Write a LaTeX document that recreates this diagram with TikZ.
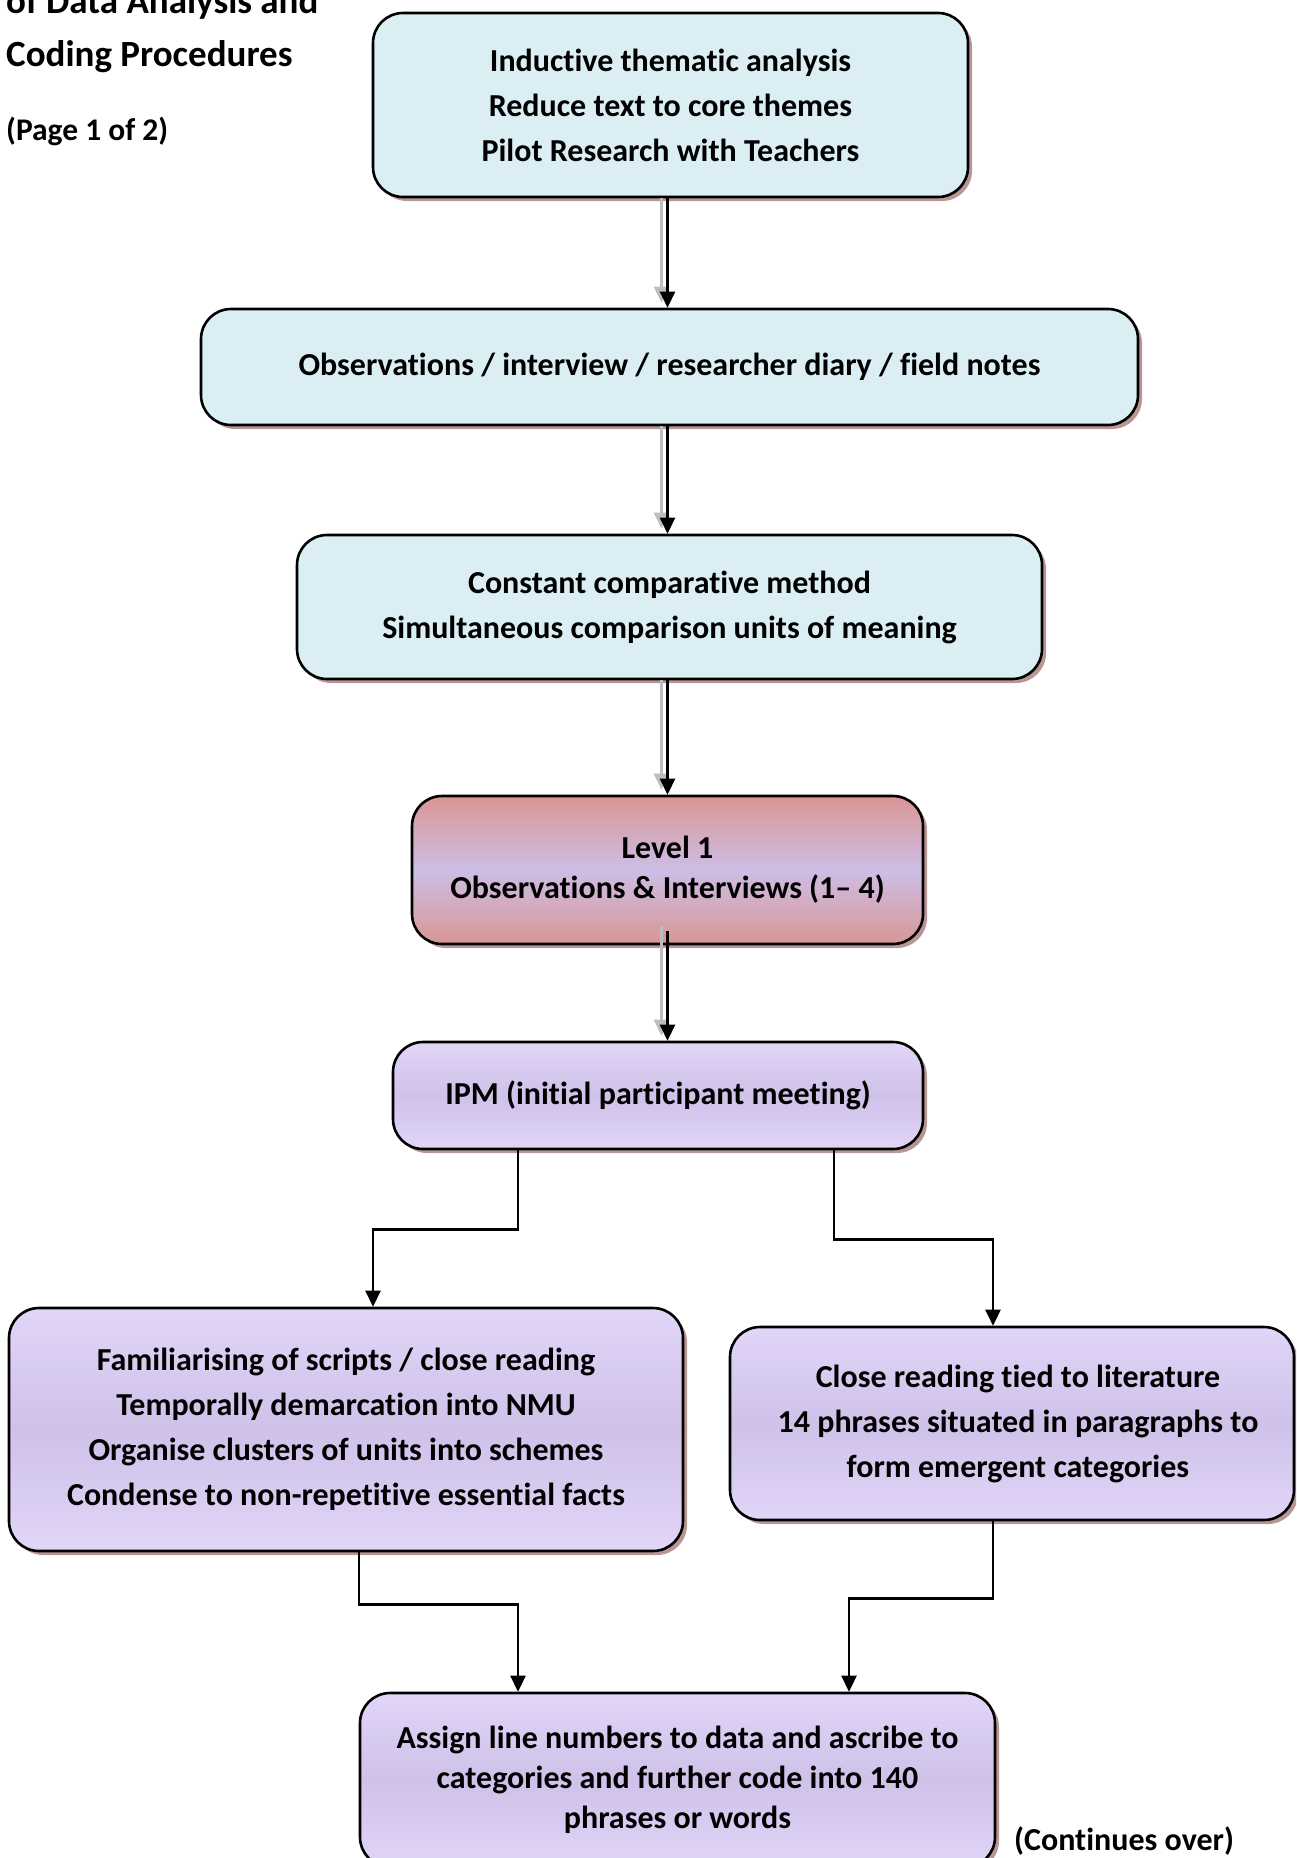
\documentclass[tikz,border=0pt]{standalone}
\usepackage{fontspec}
\setmainfont{Carlito}[Ligatures=NoCommon]
\usetikzlibrary{arrows.meta,shadows,calc}

\definecolor{bluefill}{HTML}{DBEEF4}
\definecolor{lavtop}{HTML}{E1D5F8}
\definecolor{lavmid}{HTML}{CFC1E8}
\definecolor{redend}{HTML}{D99694}
\definecolor{redmid}{HTML}{CDBEE6}
\definecolor{shadowc}{HTML}{B89696}
\definecolor{ghost}{HTML}{BDBDBD}

\tikzset{
  boxbase/.style={draw=black, line width=2.6pt, rounded corners=30pt,
    inner sep=0pt, align=center,
    font=\bfseries\fontsize{32}{45}\selectfont,
    drop shadow={shadow xshift=4pt, shadow yshift=-4pt, fill=shadowc, opacity=1}},
  bluebox/.style={boxbase, fill=bluefill},
  lavbox/.style={boxbase, top color=lavtop, bottom color=lavtop, middle color=lavmid},
  redbox/.style={boxbase, top color=redend, bottom color=redend, middle color=redmid,
    font=\bfseries\fontsize{32}{40}\selectfont},
  wire/.style={line width=2.5pt, -{Triangle[length=16pt,width=15pt]}},
  ghostwire/.style={line width=2.6pt, draw=ghost, -{Triangle[length=16pt,width=15pt,fill=ghost]}},
  title/.style={anchor=base west, inner sep=0pt, font=\bfseries\fontsize{37}{44}\selectfont},
}

\begin{document}
\begin{tikzpicture}[x=1pt, y=-1pt]
  \useasboundingbox (0,0) rectangle (1296,1858);
  \clip (0,0) rectangle (1296,1858);

  % heading in the upper left corner
  \node[title] (headA) at (6,13) {of Data Analysis and};
  \node[title] (headB) at (6,66) {Coding Procedures};
  \node[title, font=\bfseries\fontsize{31.5}{36}\selectfont] (page) at (6,140) {(Page 1 of 2)};

  % process boxes
  \node[bluebox, minimum width=595pt, minimum height=184pt] (b1) at (670.5,105)
    {Inductive thematic analysis\\Reduce text to core themes\\Pilot Research with Teachers};
  \node[bluebox, minimum width=937pt, minimum height=116pt] (b2) at (669.5,367)
    {Observations / interview / researcher diary / field notes};
  \node[bluebox, minimum width=745pt, minimum height=144pt] (b3) at (669.5,607)
    {Constant comparative method\\Simultaneous comparison units of meaning};
  \node[redbox, minimum width=511pt, minimum height=148pt] (b4) at (667.5,870)
    {Level 1\\Observations \& Interviews (1-- 4)};
  \node[lavbox, minimum width=530pt, minimum height=107pt] (b5) at (658,1095.5)
    {IPM (initial participant meeting)};
  \node[lavbox, minimum width=674pt, minimum height=243pt] (b6) at (346,1429.5)
    {Familiarising of scripts / close reading\\Temporally demarcation into NMU\\
     Organise clusters of units into schemes\\Condense to non-repetitive essential facts};
  \node[lavbox, minimum width=564pt, minimum height=193pt] (b7) at (1012,1423.5)
    {\hspace*{12pt}Close reading tied to literature\\\hspace*{12pt}14 phrases situated in paragraphs to\\\hspace*{12pt}form emergent categories};
  \node[lavbox, minimum width=635pt, minimum height=174pt,
        font=\bfseries\fontsize{32}{40}\selectfont] (b8) at (677.5,1780)
    {Assign line numbers to data and ascribe to\\categories and further code into 140\\phrases or words};

  \node[anchor=base west, inner sep=0pt, font=\bfseries\fontsize{32}{36}\selectfont]
    (cont) at (1014,1850) {(Continues over)};

  % central chain along one vertical line, each with a faint grey double line
  \coordinate (spine) at (b4.center);
  \draw[ghostwire] ($(b1.south -| spine)+(-6,0)$) -- ($(b2.north -| spine)+(-6,-5)$);
  \draw[wire] (b1.south -| spine) -- (b2.north -| spine);
  \draw[ghostwire] ($(b2.south -| spine)+(-6,0)$) -- ($(b3.north -| spine)+(-6,-5)$);
  \draw[wire] (b2.south -| spine) -- (b3.north -| spine);
  \draw[ghostwire] ($(b3.south -| spine)+(-6,0)$) -- ($(b4.north -| spine)+(-6,-5)$);
  \draw[wire] (b3.south -| spine) -- (b4.north -| spine);
  \draw[ghostwire] ($(b4.south -| spine)+(-6,-19)$) -- ($(b5.north -| spine)+(-6,-5)$);
  \draw[wire] ($(b4.south -| spine)+(0,-14)$) -- (b5.north -| spine);

  % branching elbows
  \draw[wire] ([xshift=-140pt]b5.south) -- ++(0,79) -| ([xshift=27pt]b6.north);
  \draw[wire] ([xshift=176pt]b5.south) -- ++(0,89) -| ([xshift=-19pt]b7.north);
  \draw[wire] ([xshift=13pt]b6.south) -- ++(0,52) -| ([xshift=-159.5pt]b8.north);
  \draw[wire] ([xshift=-19pt]b7.south) -- ++(0,77) -| ([xshift=171.5pt]b8.north);
\end{tikzpicture}
\end{document}
